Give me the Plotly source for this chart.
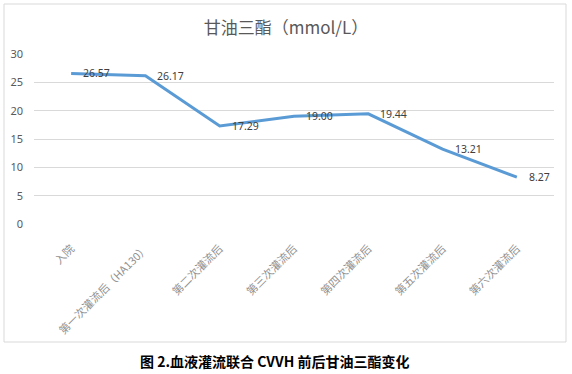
import plotly.graph_objects as go

categories = ["入院", "第一次灌流后（HA130）", "第二次灌流后", "第三次灌流后",
              "第四次灌流后", "第五次灌流后", "第六次灌流后"]
values = [26.57, 26.17, 17.29, 19.00, 19.44, 13.21, 8.27]
value_labels = ["26.57", "26.17", "17.29", "19.00", "19.44", "13.21", "8.27"]
y_ticks = [0, 5, 10, 15, 20, 25, 30]

W, H = 572, 374
px_l, px_r, px_t, px_b = 34, 554, 54, 224

fig = go.Figure()
fig.add_trace(go.Scatter(
    x=categories, y=values, mode="lines",
    line=dict(color="#5B9BD5", width=3),
    cliponaxis=False, showlegend=False, hoverinfo="skip",
))

annotations = [dict(x=c, y=v, xref="x", yref="y", text=t, showarrow=False,
                    xanchor="left", yanchor="middle", xshift=10,
                    font=dict(family="Noto Sans, sans-serif", size=10.5, color="#404040"))
               for c, v, t in zip(categories, values, value_labels)]
annotations.append(dict(text="<b>图 2.血液灌流联合 CVVH 前后甘油三酯变化</b>",
                        xref="paper", yref="paper", x=275 / W, y=1 - 361 / H,
                        xanchor="center", yanchor="middle", showarrow=False,
                        font=dict(family="Noto Sans CJK SC", size=14, color="#000000")))

fig.update_layout(
    width=W, height=H,
    margin=dict(l=0, r=0, t=0, b=0),
    paper_bgcolor="white", plot_bgcolor="white",
    xaxis=dict(domain=[px_l / W, px_r / W], range=[-0.5, len(categories) - 0.5],
               showgrid=False, zeroline=False,
               showline=False, tickangle=-45, automargin=False,
               tickfont=dict(family="Noto Sans CJK SC", size=11, color="#909090"),
               ticklabelstandoff=15),
    yaxis=dict(domain=[1 - px_b / H, 1 - px_t / H], range=[0, 30],
               tickvals=y_ticks, showgrid=True, gridcolor="#D9D9D9", gridwidth=1,
               zeroline=False, showline=False, automargin=False,
               tickfont=dict(family="Noto Sans, sans-serif", size=11, color="#595959"),
               ticklabelstandoff=10),
    title=dict(text="甘油三酯（mmol/L）", x=0.5, xanchor="center",
               y=1 - 28 / H, yanchor="middle",
               font=dict(family="Noto Sans CJK SC", size=17, color="#595959")),
    shapes=[dict(type="rect", xref="paper", yref="paper",
                 x0=4 / W, x1=566 / W, y0=1 - 342 / H, y1=1 - 4 / H,
                 line=dict(color="#D9D9D9", width=1), fillcolor="rgba(0,0,0,0)")],
    annotations=annotations,
)

fig.write_html("out.html", config={"displayModeBar": False},
               post_script="document.body.style.margin='0';")
